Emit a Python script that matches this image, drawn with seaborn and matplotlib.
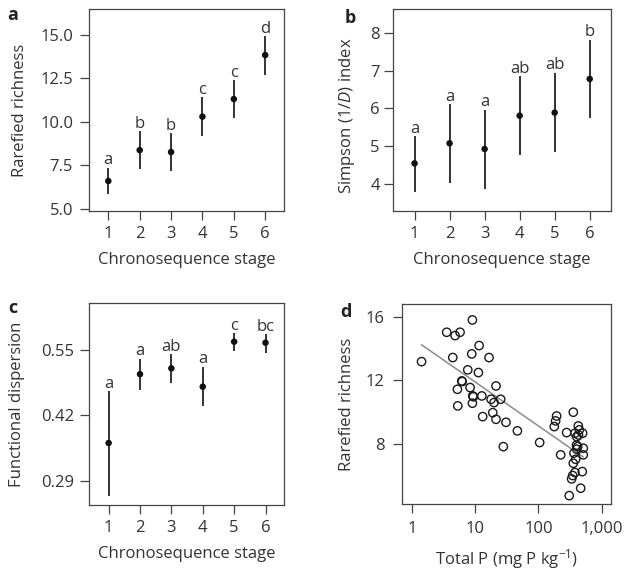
import numpy as np
import pandas as pd
import matplotlib
matplotlib.use("Agg")
import matplotlib.pyplot as plt
import seaborn as sns

sns.set_style("ticks")
plt.rcParams['font.family'] = ['Open Sans', 'DejaVu Sans']
plt.rcParams['mathtext.fontset'] = 'custom'
plt.rcParams['mathtext.rm'] = 'Open Sans'
plt.rcParams['mathtext.it'] = 'Open Sans:italic'

TXT = '#333333'
FRAME = '#444444'
FS = 12

# ---------------- data ----------------
stages = [1, 2, 3, 4, 5, 6]

rich_mean = [6.61, 8.38, 8.27, 10.30, 11.31, 13.83]
rich_lo = [5.84, 7.28, 7.16, 9.19, 10.20, 12.71]
rich_hi = [7.37, 9.46, 9.34, 11.41, 12.40, 14.92]
rich_letters = ['a', 'b', 'b', 'c', 'c', 'd']

simp_mean = [4.55, 5.08, 4.93, 5.81, 5.89, 6.78]
simp_lo = [3.80, 4.04, 3.87, 4.76, 4.85, 5.74]
simp_hi = [5.27, 6.11, 5.97, 6.85, 6.94, 7.82]
simp_letters = ['a', 'a', 'a', 'ab', 'ab', 'b']

fd_mean = [0.365, 0.502, 0.5135, 0.477, 0.5666, 0.5646]
fd_lo = [0.260, 0.470, 0.485, 0.438, 0.548, 0.545]
fd_hi = [0.468, 0.533, 0.542, 0.517, 0.583, 0.581]
fd_letters = ['a', 'a', 'ab', 'a', 'c', 'bc']

total_p = [1.41, 3.53, 4.79, 5.74, 9.0, 11.5, 4.40, 8.79, 16.5, 7.6,
           11.2, 6.1, 6.2, 5.21, 8.27, 21.3, 9.12, 9.35, 12.7, 5.28,
           9.0, 17.8, 19.8, 25.2, 13.1, 18.9, 21.3, 30.6, 46.4, 27.8,
           104.5, 194, 187, 178, 225, 279, 356, 307, 466, 427,
           443, 500, 378, 403, 418, 512, 403, 512, 365, 388,
           356, 494, 378, 348, 335, 400, 430]
rarefied = [13.19, 15.05, 14.84, 15.05, 15.83, 14.21, 13.45, 13.68, 13.45, 12.67,
            12.50, 11.97, 11.93, 11.44, 11.55, 11.65, 11.02, 10.97, 11.02, 10.39,
            10.56, 10.81, 10.60, 10.81, 9.71, 9.96, 9.54, 9.35, 8.81, 7.81,
            8.07, 9.75, 9.44, 9.08, 7.29, 8.70, 9.99, 4.71, 5.18, 9.12,
            8.87, 8.66, 8.66, 8.44, 7.81, 7.71, 7.65, 7.29, 7.40, 7.01,
            6.76, 6.23, 6.17, 5.98, 5.77, 7.90, 8.55]

# ---------------- figure ----------------
fig = plt.figure(figsize=(6.26, 5.70), dpi=100)
ax_a = fig.add_axes([0.1422, 0.6298, 0.3115, 0.3544])
ax_b = fig.add_axes([0.6278, 0.6304, 0.3478, 0.3533])
ax_c = fig.add_axes([0.1427, 0.1140, 0.3115, 0.3539])
ax_d = fig.add_axes([0.6427, 0.1158, 0.3338, 0.3509])


def style_axes(ax, ypad, xpad=4.5):
    for s in ax.spines.values():
        s.set_visible(True)
        s.set_color(FRAME)
        s.set_linewidth(0.9)
    ax.tick_params(axis='both', which='major', direction='out', length=6.5,
                   width=0.9, color=FRAME, labelsize=FS, labelcolor=TXT)
    ax.tick_params(axis='y', pad=ypad)
    ax.tick_params(axis='x', pad=xpad)
    ax.tick_params(which='minor', length=0)
    ax.grid(False)


def stage_panel(ax, mean, lo, hi, letters, ylim, yticks, ylabels, ylabel, ypad):
    df = pd.DataFrame({'stage': stages, 'mean': mean, 'lo': lo, 'hi': hi})
    ax.vlines(df['stage'], df['lo'], df['hi'], color='#111111', lw=1.2, zorder=2)
    sns.scatterplot(data=df, x='stage', y='mean', ax=ax, color='#111111',
                    s=22, edgecolor='none', zorder=3, legend=False)
    for xv, top, lab in zip(stages, hi, letters):
        ax.annotate(lab, (xv, top), xytext=(0, 2.5), textcoords='offset points',
                    ha='center', va='baseline', fontsize=FS, color=TXT)
    ax.set_xlim(0.385, 6.6)
    ax.set_ylim(*ylim)
    ax.set_xticks(stages)
    ax.set_xticklabels([str(s) for s in stages])
    ax.set_yticks(yticks)
    ax.set_yticklabels(ylabels)
    ax.set_xlabel('Chronosequence stage', fontsize=FS, color=TXT, labelpad=7)
    ax.set_ylabel(ylabel, fontsize=FS, color=TXT)
    style_axes(ax, ypad)


stage_panel(ax_a, rich_mean, rich_lo, rich_hi, rich_letters, (4.89, 16.47),
            [5.0, 7.5, 10.0, 12.5, 15.0], ['5.0', '7.5', '10.0', '12.5', '15.0'],
            'Rarefied richness', 5.0)
stage_panel(ax_b, simp_mean, simp_lo, simp_hi, simp_letters, (3.30, 8.62),
            [4, 5, 6, 7, 8], ['4', '5', '6', '7', '8'],
            'Simpson (1/$\\it{D}$) index', 3)
stage_panel(ax_c, fd_mean, fd_lo, fd_hi, fd_letters, (0.2416, 0.643),
            [0.29, 0.42, 0.55], ['0.29', '0.42', '0.55'],
            'Functional dispersion', 4.5)

# panel d
dfd = pd.DataFrame({'tp': total_p, 'rich': rarefied})
sns.regplot(data=dfd, x='tp', y='rich', ax=ax_d, logx=True, ci=None,
            scatter=False, line_kws=dict(color='#8c8c8c', lw=1.1, zorder=2))
sns.scatterplot(data=dfd, x='tp', y='rich', ax=ax_d, marker='o', s=36,
                facecolor='none', edgecolor='#1a1a1a', linewidth=1.0,
                zorder=3, legend=False)
ax_d.set_xscale('log')
ax_d.set_xlim(0.70, 1422)
ax_d.set_ylim(4.18, 16.84)
ax_d.set_xticks([1, 10, 100, 1000])
ax_d.set_xticklabels(['1', '10', '100', '1,000'])
ax_d.set_yticks([8, 12, 16])
ax_d.set_yticklabels(['8', '12', '16'])
ax_d.set_xlabel('Total P (mg P kg$^{-1}$)', fontsize=FS, color=TXT, labelpad=7)
ax_d.set_ylabel('Rarefied richness', fontsize=FS, color=TXT)
style_axes(ax_d, 6.5, xpad=6)

# y-label positions (axes coords)
ax_a.yaxis.set_label_coords(-0.315, 0.5)
ax_b.yaxis.set_label_coords(-0.165, 0.47)
ax_c.yaxis.set_label_coords(-0.33, 0.5)
ax_d.yaxis.set_label_coords(-0.228, 0.5)

# panel letters
for lab, (px, py) in zip(['a', 'b', 'c', 'd'],
                         [(13, 15), (350, 18), (13, 308), (346, 312)]):
    fig.text(px / 626, 1 - py / 570, lab, fontsize=13, fontweight='bold',
             color='#222222', ha='center', va='center')

fig.savefig('out.png', dpi=100)
